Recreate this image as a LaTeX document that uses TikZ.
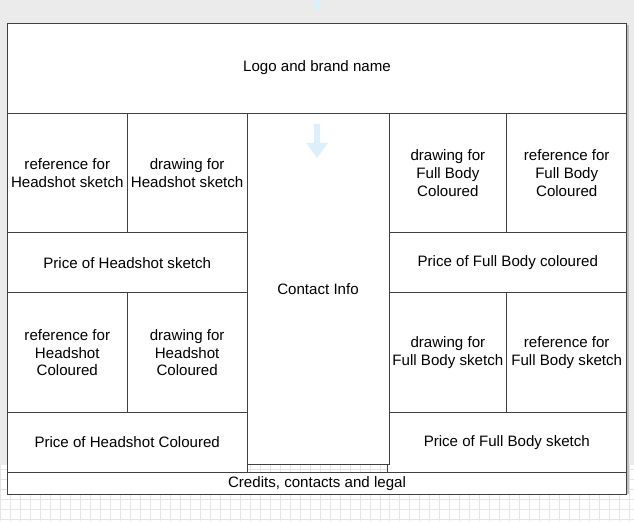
\documentclass[tikz,border=0pt]{standalone}
\usepackage{fontspec}
\setmainfont{Liberation Sans}
\definecolor{pagegray}{HTML}{EBEBEB}
\definecolor{gridline}{HTML}{E4E4E4}
\definecolor{linegray}{HTML}{404040}
\definecolor{hintblue}{HTML}{DCF0FB}
\begin{document}
\begin{tikzpicture}[x=0.02cm, y=-0.02cm,
    cell/.style={draw=linegray, fill=white, inner sep=0pt, align=center,
        font=\fontsize{8.6}{10.2}\selectfont}]
        % page background and grid
        \fill[pagegray] (0,0) rectangle (634,522);
        \fill[white] (0,465) rectangle (634,522);
        \draw[gridline, step=0.2cm] (0,465) grid (634,522);
        \fill[black!25] (627,25) rectangle (629,495);

        % Logo box
        \node[cell, minimum width=12.4cm, minimum height=1.8cm] (Logo) at (317,68) {Logo and brand name};

        % Headshot sketch
        \node[cell, minimum width=2.4cm, minimum height=2.4cm] (HSref) at (67,173) {reference for\\Headshot sketch};
        \node[cell, minimum width=2.4cm, minimum height=2.4cm] (HSdraw) at (187,173) {drawing for\\Headshot sketch};
        \node[cell, minimum width=4.8cm, minimum height=1.2cm] (HSprice) at (127,263) {Price of Headshot sketch};

        % Headshot coloured
        \node[cell, minimum width=2.4cm, minimum height=2.4cm] (HCref) at (67,353) {reference for\\Headshot\\Coloured};
        \node[cell, minimum width=2.4cm, minimum height=2.4cm] (HCdraw) at (187,353) {drawing for\\Headshot\\Coloured};
        \node[cell, minimum width=4.8cm, minimum height=1.2cm] (HCprice) at (127,443) {Price of Headshot Coloured};

        % Full body coloured
        \node[cell, minimum width=2.36cm, minimum height=2.4cm] (FCdraw) at (448,173) {drawing for\\Full Body\\Coloured};
        \node[cell, minimum width=2.4cm, minimum height=2.4cm] (FCref) at (567,173) {reference for\\Full Body\\Coloured};
        \node[cell, minimum width=4.76cm, minimum height=1.2cm] (FCprice) at (508,263) {Price of Full Body coloured};

        % Full body sketch
        \node[cell, minimum width=2.36cm, minimum height=2.4cm] (FSdraw) at (448,353) {drawing for\\Full Body sketch};
        \node[cell, minimum width=2.4cm, minimum height=2.4cm] (FSref) at (567,353) {reference for\\Full Body sketch};
        \node[cell, minimum width=4.8cm, minimum height=1.2cm] (FSprice) at (507,443) {Price of Full Body sketch};

        % Contact column and footer
        \node[cell, minimum width=2.84cm, minimum height=7.04cm] (Contact) at (318,289) {Contact Info};
        \node[cell, minimum width=12.4cm, minimum height=0.44cm] (Credits) at (317,484) {Credits, contacts and legal};

        % hint arrows
        \fill[hintblue] (314,0) rectangle (320,10);
        \fill[hintblue] (314,124) -- (320,124) -- (320,143) -- (328,143) -- (317,158)
            -- (306,143) -- (314,143) -- cycle;
    \end{tikzpicture}
\end{document}
